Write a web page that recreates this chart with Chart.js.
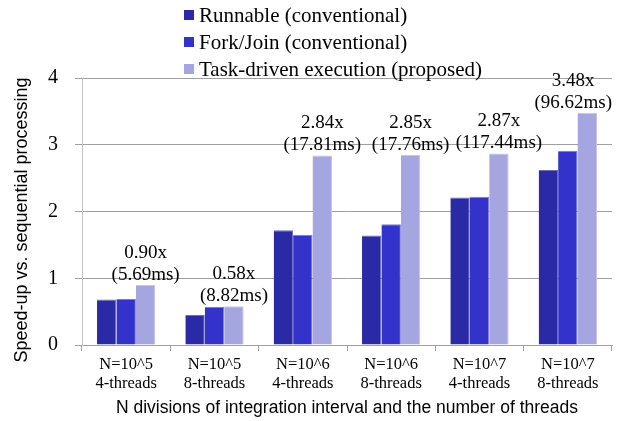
<!DOCTYPE html>
<html>
<head>
<meta charset="utf-8">
<script src="https://cdn.jsdelivr.net/npm/chart.js@4/dist/chart.umd.min.js"></script>
<style>
html,body{margin:0;padding:0;background:#fff;}
canvas{display:block;}
</style>
</head>
<body>
<canvas id="c" width="624" height="421"></canvas>
<script>
const categories = [
  ["N=10^5", "4-threads"],
  ["N=10^5", "8-threads"],
  ["N=10^6", "4-threads"],
  ["N=10^6", "8-threads"],
  ["N=10^7", "4-threads"],
  ["N=10^7", "8-threads"]
];
const runnable = [0.68, 0.45, 1.72, 1.64, 2.21, 2.62];
const forkJoin = [0.69, 0.57, 1.65, 1.81, 2.22, 2.91];
const taskDriven = [0.90, 0.58, 2.84, 2.85, 2.87, 3.48];
const speedLabels = ["0.90x", "0.58x", "2.84x", "2.85x", "2.87x", "3.48x"];
const timeLabels = ["(5.69ms)", "(8.82ms)", "(17.81ms)", "(17.76ms)", "(117.44ms)", "(96.62ms)"];
const seriesNames = ["Runnable (conventional)", "Fork/Join (conventional)", "Task-driven execution (proposed)"];
const seriesColors = ["#2a2aa6", "#3333cc", "#a5a5df"];
const yTicks = [0, 1, 2, 3, 4];
const yTitle = "Speed-up vs. sequential processing";
const xTitle = "N divisions of integration interval and the number of threads";

const SERIF = "'Liberation Serif', 'Times New Roman', serif";
const SANS = "'Liberation Sans', Arial, sans-serif";

const legendPlugin = {
  id: 'customLegend',
  afterDraw(chart) {
    const ctx = chart.ctx;
    ctx.save();
    ctx.font = "21px " + SERIF;
    ctx.textBaseline = 'middle';
    ctx.textAlign = 'left';
    const rows = [15, 42, 69];
    seriesNames.forEach((name, i) => {
      ctx.fillStyle = seriesColors[i];
      ctx.fillRect(184, rows[i] - 5, 10, 10);
      ctx.fillStyle = '#000';
      ctx.fillText(name, 199, rows[i] + 1);
    });
    ctx.restore();
  }
};

const yTitlePlugin = {
  id: 'yTitle',
  afterDraw(chart) {
    const ctx = chart.ctx;
    ctx.save();
    ctx.translate(22, 220);
    ctx.rotate(-Math.PI / 2);
    ctx.font = "18px " + SANS;
    ctx.fillStyle = '#000';
    ctx.textAlign = 'center';
    ctx.textBaseline = 'middle';
    ctx.fillText(yTitle, 0, 0);
    ctx.restore();
  }
};

const labelPlugin = {
  id: 'barLabels',
  afterDatasetsDraw(chart) {
    const ctx = chart.ctx;
    const meta = chart.getDatasetMeta(2);
    const area = chart.chartArea;
    ctx.save();
    ctx.font = "19px " + SERIF;
    ctx.fillStyle = '#000';
    ctx.textAlign = 'center';
    ctx.textBaseline = 'middle';
    meta.data.forEach((bar, i) => {
      const w = Math.max(ctx.measureText(speedLabels[i]).width, ctx.measureText(timeLabels[i]).width);
      let x = bar.x;
      if (x + w / 2 > area.right) x = area.right - w / 2;
      const y2 = bar.y - 10;
      const y1 = y2 - 22;
      ctx.fillText(speedLabels[i], x, y1);
      ctx.fillText(timeLabels[i], x, y2);
    });
    ctx.restore();
  }
};

const edge = { top: 1, right: 1, left: 0, bottom: 0 };

new Chart(document.getElementById('c'), {
  type: 'bar',
  data: {
    labels: categories,
    datasets: [
      { label: seriesNames[0], data: runnable, backgroundColor: seriesColors[0], borderColor: '#6a6ac4', borderWidth: edge, borderSkipped: false },
      { label: seriesNames[1], data: forkJoin, backgroundColor: seriesColors[1], borderColor: '#7a7ad8', borderWidth: edge, borderSkipped: false },
      { label: seriesNames[2], data: taskDriven, backgroundColor: seriesColors[2], borderColor: '#c4c4ec', borderWidth: edge, borderSkipped: false }
    ]
  },
  options: {
    responsive: false,
    devicePixelRatio: 1,
    animation: false,
    categoryPercentage: 0.66,
    barPercentage: 1.0,
    layout: { padding: { top: 78, right: 12, left: 0, bottom: 0 } },
    plugins: {
      legend: { display: false },
      tooltip: { enabled: false }
    },
    scales: {
      x: {
        afterFit(scale) { scale.height = 76; },
        ticks: {
          font: { family: SERIF, size: 16.5, lineHeight: 1.15 },
          color: '#000',
          padding: 4,
          maxRotation: 0,
          autoSkip: false
        },
        grid: {
          offset: true,
          drawOnChartArea: false,
          drawTicks: true,
          tickLength: 6,
          color: '#a0a0a0'
        },
        border: { display: true, color: '#a0a0a0' },
        title: {
          display: true,
          text: xTitle,
          font: { family: SANS, size: 17.5 },
          color: '#000',
          padding: { top: 0, bottom: 2 }
        }
      },
      y: {
        min: 0,
        max: 4,
        afterFit(scale) { scale.width = 82; },
        afterBuildTicks(scale) { scale.ticks = yTicks.map(v => ({ value: v })); },
        ticks: {
          font: { family: SERIF, size: 20 },
          color: '#000',
          padding: 17
        },
        grid: {
          color: '#a0a0a0',
          tickLength: 7,
          drawTicks: true
        },
        border: { display: true, color: '#c0c0c0' }
      }
    }
  },
  plugins: [legendPlugin, yTitlePlugin, labelPlugin]
});
</script>
</body>
</html>
